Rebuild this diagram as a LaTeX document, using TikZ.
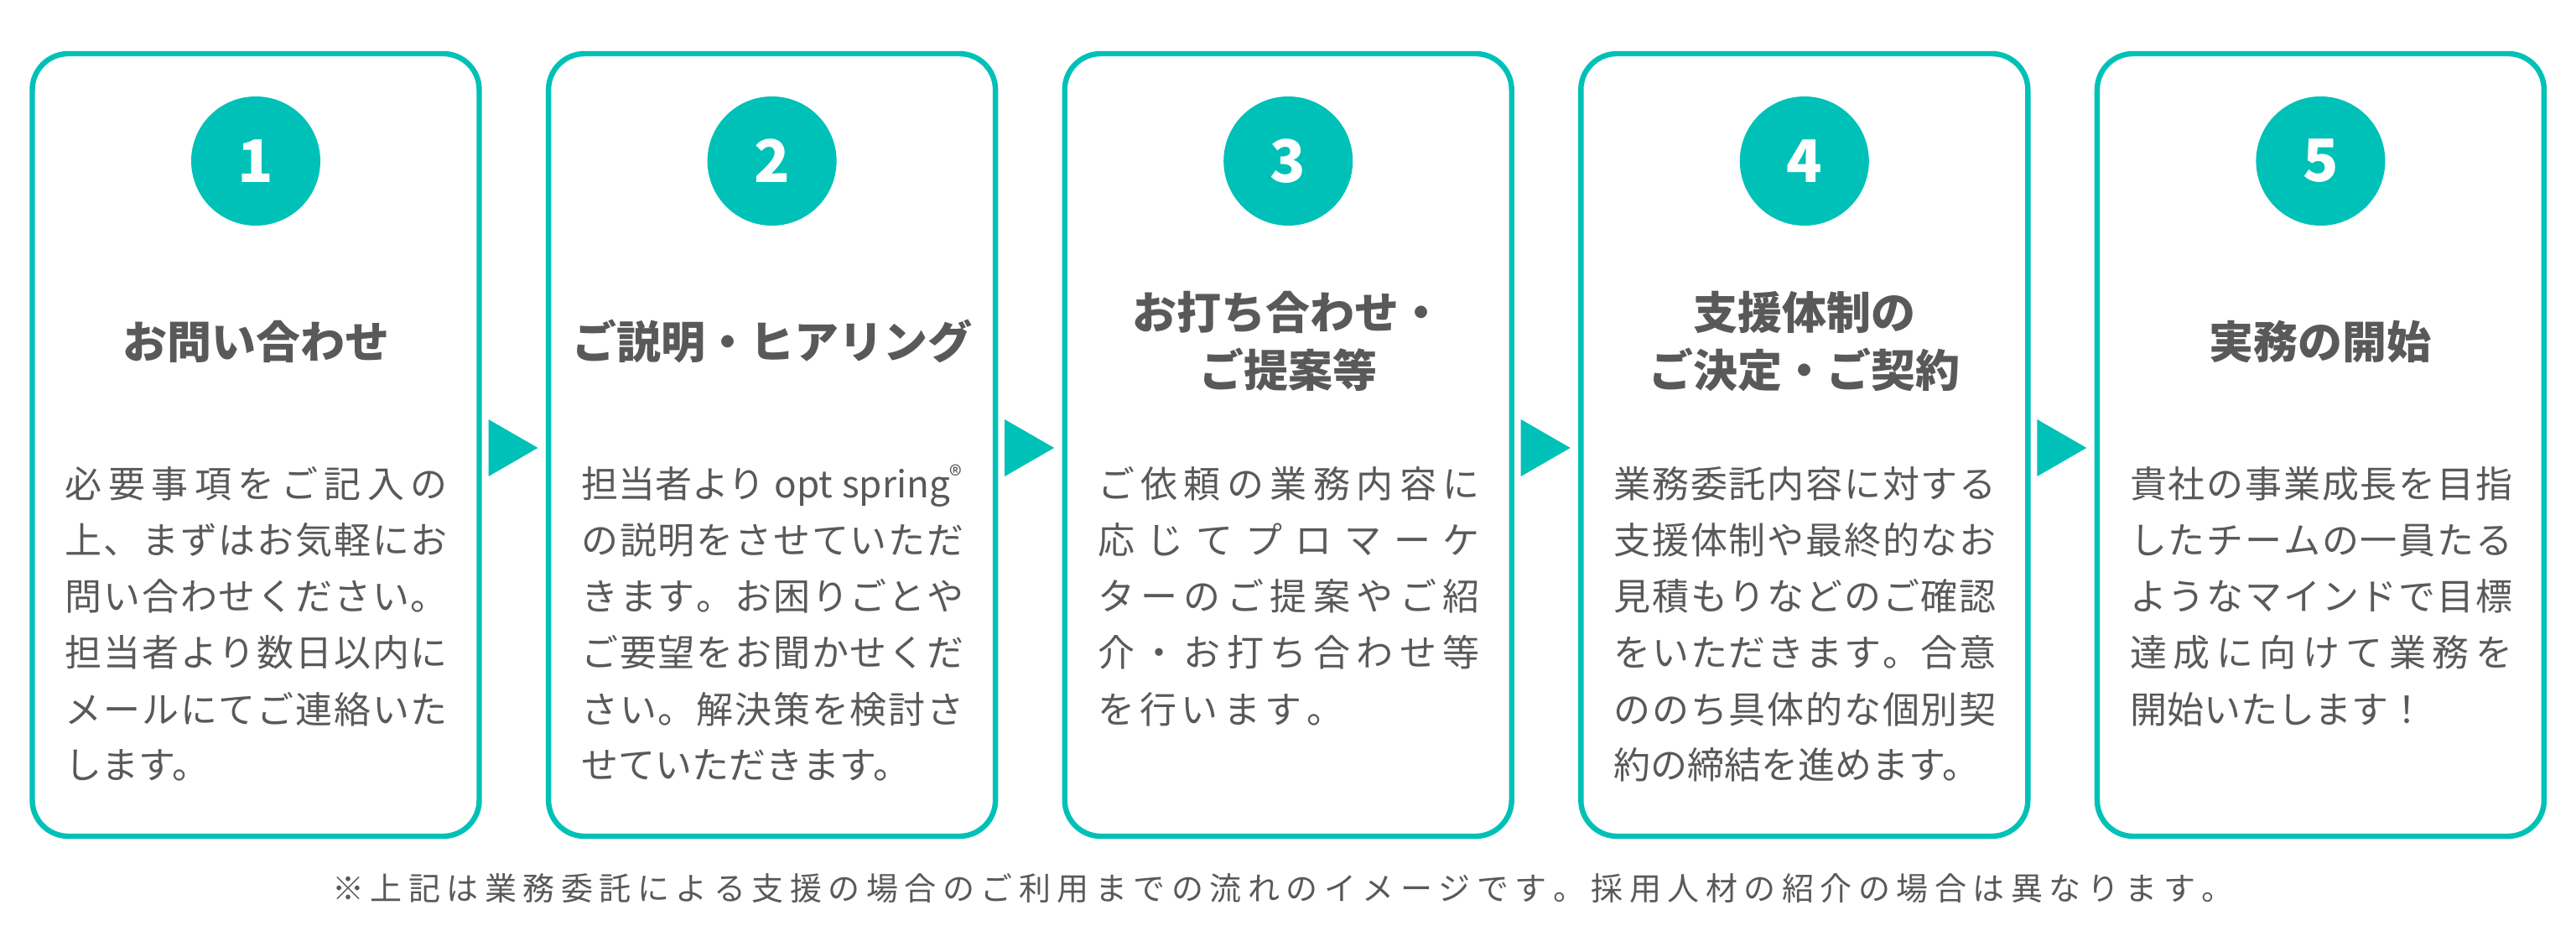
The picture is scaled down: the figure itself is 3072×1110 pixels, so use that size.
\documentclass[tikz,border=0pt]{standalone}
\usepackage{fontspec}
\setmainfont{Noto Sans CJK JP}
\usepackage{tikz}
\usepackage{xcolor}
\usetikzlibrary{positioning}
\definecolor{brand}{RGB}{0, 193, 183}
\definecolor{ink}{RGB}{89, 89, 89}
\newdimen\pxu \pxu=0.25pt
\makeatletter
\def\sp@end{sp@end}
\def\sp@go#1{\ifx#1\sp@end\else#1\expandafter\sp@more\fi}
\def\sp@more#1{\ifx#1\sp@end\else\hfil#1\expandafter\sp@more\fi}
\newcommand{\spreadline}[2]{\makebox[#1\pxu][s]{\expandafter\sp@go#2\sp@end}}
\makeatother
\newcommand{\bodyline}[2]{%
  \ifnum#1=0 #2%
  \else\ifnum#1<0 \makebox[114pt][s]{#2}%
  \else\spreadline{#1}{#2}\fi\fi}
\newcommand{\cardtext}[2]{%
  \foreach \w/\t [count=\k] in {#2}
    \node[bodyline] (#1-l\k) at ([xshift=9.625pt, yshift={-132.5pt-16.75pt*(\k-1)}]#1.north west) {\bodyline{\w}{\t}};
}

\begin{document}
\begin{tikzpicture}[x=0.25pt, y=-0.25pt,
    card/.style={draw=brand, line width=1.6pt, rounded corners=10.75pt, fill=white,
      minimum width=133.25pt, minimum height=233.25pt, inner sep=0pt, outer sep=0pt},
    numdot/.style={circle, fill=brand, minimum size=38.5pt, inner sep=0pt, text=white,
      font=\fontsize{17.5pt}{17.5pt}\selectfont\bfseries},
    stephead/.style={text=ink, align=center, inner sep=0pt,
      font=\fontsize{13.25pt}{17.25pt}\selectfont\bfseries},
    bodyline/.style={text=ink, anchor=base west, inner sep=0pt,
      font=\fontsize{11pt}{11pt}\selectfont},
    note/.style={text=ink, anchor=base, inner sep=0pt,
      font=\fontsize{9.5pt}{9.5pt}\selectfont}]
  \fill[white] (0,0) rectangle (3072,1110);
  \useasboundingbox (0,0) rectangle (3072,1110);

  % the five steps
  \node[card] (card1) at (305,530.5) {};
  \node[card, right=20.65pt of card1] (card2) {};
  \node[card, right=20.65pt of card2] (card3) {};
  \node[card, right=20.65pt of card3] (card4) {};
  \node[card, right=20.65pt of card4] (card5) {};

  \foreach \i in {1,...,5}
    \node[numdot] (num\i) at ([yshift=-32pt]card\i.north) {\i};

  \foreach \a [count=\b from 2] in {1,...,4}
    \fill[brand] ([shift={(11,-30.5)}]card\a.east) -- ([shift={(70,3.5)}]card\a.east)
      -- ([shift={(11,37.5)}]card\a.east) -- cycle;

  \node[stephead] (head1) at ([yshift=-85.75pt]card1.north) {お問い合わせ};
  \node[stephead] (head2) at ([yshift=-85.75pt]card2.north) {ご説明・ヒアリング};
  \node[stephead] (head3) at ([yshift=-85.75pt]card3.north) {お打ち合わせ・\\ご提案等};
  \node[stephead] (head4) at ([yshift=-85.75pt]card4.north) {支援体制の\\ご決定・ご契約};
  \node[stephead] (head5) at ([yshift=-85.75pt]card5.north) {実務の開始};

  \cardtext{card1}{456/必要事項をご記入の, 456/上、まずはお気軽にお, 456/問い合わせください。,
    456/担当者より数日以内に, 456/メールにてご連絡いた, 0/します。}
  \cardtext{card2}{-1/担当者より opt spring\textsuperscript{®}, 456/の説明をさせていただ,
    456/きます。お困りごとや, 456/ご要望をお聞かせくだ, 456/さい。解決策を検討さ, 0/せていただきます。}
  \cardtext{card3}{456/ご依頼の業務内容に, 456/応じてプロマーケ, 456/ターのご提案やご紹,
    456/介・お打ち合わせ等, 294/を行います。}
  \cardtext{card4}{456/業務委託内容に対する, 456/支援体制や最終的なお, 456/見積もりなどのご確認,
    456/をいただきます。合意, 456/ののち具体的な個別契, 0/約の締結を進めます。}
  \cardtext{card5}{456/貴社の事業成長を目指, 456/したチームの一員たる, 456/ようなマインドで目標,
    456/達成に向けて業務を, 0/開始いたします！}

  \node[note] (note) at (1530,1073.5) {\spreadline{2268}{※上記は業務委託による支援の場合のご利用までの流れのイメージです。採用人材の紹介の場合は異なります。}};
\end{tikzpicture}
\end{document}
